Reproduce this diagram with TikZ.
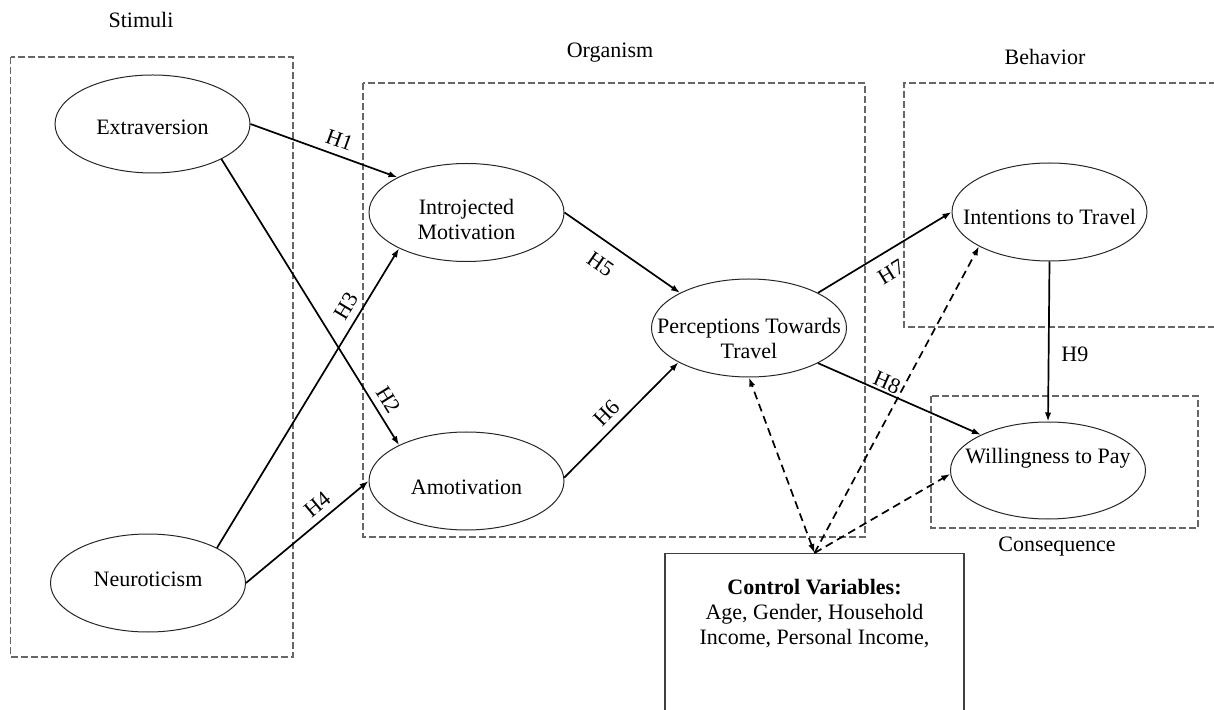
\documentclass[tikz,border=0pt]{standalone}
\usepackage{fontspec}
\setmainfont{Liberation Serif}
\usetikzlibrary{arrows.meta,shapes.geometric}
\begin{document}
\begin{tikzpicture}[x=0.5pt,y=-0.5pt,
  font=\fontsize{11}{12.5}\selectfont,
  ell/.style={draw=black!85, line width=0.5pt, ellipse, inner sep=0pt, minimum width=97.5pt, minimum height=49pt},
  lbl/.style={align=center, inner sep=0pt},
  grp/.style={draw=black!60, line width=0.55pt, dash pattern=on 3.5pt off 1.5pt},
  arr/.style={line width=0.85pt, -{Latex[length=4.5pt,width=3.2pt]}},
  darr/.style={line width=0.85pt, dash pattern=on 4pt off 2.5pt, -{Latex[length=4.5pt,width=3.2pt]}},
  hyp/.style={sloped, inner sep=3.5pt},
  ttl/.style={anchor=base, inner sep=0pt}
]
\useasboundingbox (0,0) rectangle (1214,710);
% group frames
\draw[grp] (10.7,57) rectangle (293,657);
\draw[grp] (363,83) rectangle (865,537);
\draw[grp] (1216,83) -- (904,83) -- (904,327) -- (1216,327);
\draw[grp] (931,396) rectangle (1198,528);
% titles
\node[ttl] (tstim) at (141,28) {Stimuli};
\node[ttl] (torg) at (610,58) {Organism};
\node[ttl] (tbeh) at (1045,65) {Behavior};
\node[ttl] (tcon) at (1057,551) {Consequence};
% constructs
\node[ell, label={[lbl,yshift=-1.5pt]center:{Extraversion}}] (ext) at (152.5,124) {};
\node[ell, label={[lbl,yshift=2pt]center:{Neuroticism}}] (neu) at (148,583) {};
\node[ell, label={[lbl,yshift=-3.5pt]center:{Introjected\\Motivation}}] (imot) at (466.5,212.5) {};
\node[ell, label={[lbl,yshift=-3pt]center:{Amotivation}}] (amot) at (466.5,481) {};
\node[ell, label={[lbl,yshift=-5pt]center:{Perceptions Towards\\Travel}}] (ptt) at (749,328) {};
\node[ell, label={[lbl,yshift=-2.5pt]center:{Intentions to Travel}}] (itt) at (1049.5,212) {};
\node[ell, minimum height=48.5pt, label={[lbl,yshift=6pt]center:{Willingness to Pay}}] (wtp) at (1048,470.5) {};
% control variables
\node[draw=black!75, line width=0.7pt, minimum width=149.5pt, minimum height=85pt, anchor=north, inner sep=0pt,
  label={[lbl, anchor=north, yshift=-13pt]north:{\textbf{Control Variables:}\\Age, Gender, Household\\Income, Personal Income,}}] (ctrl) at (814.5,553) {};
% hypotheses
\draw[arr] (ext.east) -- node[hyp, above, pos=0.57]{H1} (imot.153);
\draw[arr] (ext.-27) -- node[hyp, above, pos=0.87]{H2} (amot.152);
\draw[arr] (neu.27) -- node[hyp, above, pos=0.78]{H3} (imot.208);
\draw[arr] (neu.east) -- node[hyp, above, pos=0.66]{H4} (amot.west);
\draw[arr] (imot.east) -- node[hyp, below, pos=0.42, inner sep=7pt]{H5} (ptt.153);
\draw[arr] (amot.2) -- node[hyp, above, pos=0.47]{H6} (ptt.206);
\draw[arr] (ptt.27) -- node[hyp, below, pos=0.47, inner sep=6pt]{H7} (itt.west);
\draw[arr] (ptt.-27) -- node[hyp, above, pos=0.4, inner sep=0.8pt]{H8} (wtp.152);
\draw[arr] (itt.south) -- node[right, pos=0.58, inner sep=0pt, xshift=6pt]{H9} (wtp.north);
% control links
\draw[darr, {Latex[length=4.5pt,width=3.2pt]}-{Latex[length=4.5pt,width=3.2pt]}] (ctrl.north) -- (ptt.south);
\draw[darr] (ctrl.north) -- (itt.206);
\draw[darr] (ctrl.north) -- (wtp.182);
\end{tikzpicture}
\end{document}
